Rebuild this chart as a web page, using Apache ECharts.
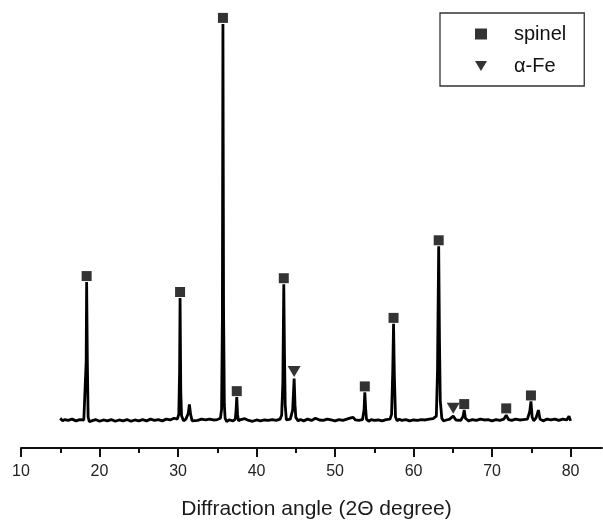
<!DOCTYPE html>
<html>
<head>
<meta charset="utf-8">
<script src="https://cdn.jsdelivr.net/npm/echarts@6/dist/echarts.min.js"></script>
<style>
html,body{margin:0;padding:0;background:#fff;}
#c{width:603px;height:525px;}
</style>
</head>
<body>
<div id="c"></div>
<script>
// Diffraction pattern (2-theta in degrees, intensity in arbitrary units)
const angles = [
15.0,15.3,15.6,16.0,16.5,17.0,17.5,18.0,18.2,18.3,18.36,18.45,18.55,18.7,19.0,19.5,
20.0,20.5,21.0,21.5,22.0,22.5,23.0,23.5,24.0,24.5,25.0,25.5,26.0,26.5,27.0,27.5,28.0,28.5,29.0,29.5,29.9,
30.1,30.2,30.26,30.35,30.45,30.7,31.0,31.3,31.45,31.6,31.8,32.0,32.5,33.0,33.5,34.0,34.5,35.0,35.4,
35.55,35.65,35.72,35.8,35.9,36.0,36.2,36.5,37.0,37.3,37.4,37.48,37.58,37.7,38.0,38.5,39.0,39.5,
40.0,40.5,41.0,41.5,42.0,42.5,43.0,43.2,43.35,43.47,43.55,43.65,43.8,44.0,44.3,44.6,44.79,44.9,
45.0,45.3,45.6,46.0,46.5,47.0,47.5,48.0,48.5,49.0,49.5,50.0,50.5,51.0,51.5,52.0,52.3,52.6,53.0,
53.5,53.7,53.79,53.9,54.0,54.3,54.6,55.0,55.5,56.0,56.5,57.0,57.2,57.35,57.45,57.55,57.7,57.9,
58.2,58.5,59.0,59.5,60.0,60.5,61.0,61.5,62.0,62.5,62.9,63.05,63.2,63.3,63.4,63.6,63.8,64.2,64.6,
65.05,65.4,66.0,66.3,66.45,66.6,67.0,67.5,68.0,68.5,69.0,69.5,70.0,70.5,71.0,71.5,71.8,72.1,72.5,
73.0,73.5,74.0,74.5,74.8,74.95,75.1,75.3,75.6,75.9,76.1,76.5,77.0,77.5,78.0,78.5,79.0,79.5,79.8,80.0
];
const intensity = [
69,63,66,64,67,63,66,65,69,200,385,200,72,61,63,66,
62,65,63,66,62,65,63,66,62,65,63,66,63,67,64,66,63,67,65,69,67,
78,180,348,130,75,63,67,80,101,78,63,66,64,67,65,67,65,66,69,
90,300,984,320,100,69,61,65,63,67,90,118,78,63,66,68,64,62,
65,63,65,64,66,64,67,76,150,380,230,100,65,61,67,88,161,100,
71,63,66,63,67,64,69,65,64,67,65,63,66,64,67,70,71,65,64,
66,90,129,90,67,62,66,64,65,63,66,67,78,180,288,170,72,63,
67,64,66,63,65,64,66,65,67,68,74,180,468,250,110,69,63,65,67,
74,65,64,73,88,69,63,66,64,67,65,66,63,66,64,67,76,66,64,
67,65,66,67,85,108,72,63,70,88,67,63,67,65,67,64,67,65,74,63
];
// Peak markers [angle, intensity]
const spinelPeaks = [[18.36,385],[30.26,348],[35.72,984],[37.48,118],[43.47,380],[53.79,129],[57.45,288],[63.2,468],[66.45,88],[71.8,78],[74.95,108]];
const fePeaks = [[44.79,161],[65.05,76]];
// Axis ticks
const majorTicks = [10,20,30,40,50,60,70,80];
const minorTicks = [15,25,35,45,55,65,75];
const seriesNames = ['spinel','\u03b1-Fe'];
const xTitle = 'Diffraction angle (2\u0398 degree)';

const FONT = '"Liberation Sans", Arial, Helvetica, sans-serif';
const chart = echarts.init(document.getElementById('c'), null, {renderer:'canvas'});
const lineData = angles.map((a,i)=>[a,intensity[i]]);
const triPath = 'path://M0,0L13,0L6.5,11Z';

chart.setOption({
  animation:false,
  backgroundColor:'#ffffff',
  grid:{left:21,right:1,top:17,bottom:74,containLabel:false},
  legend:{
    data:[{name:seriesNames[0],icon:'rect'},{name:seriesNames[1],icon:triPath}],
    orient:'vertical',
    left:440, top:13,
    itemWidth:12, itemHeight:11,
    itemGap:12,
    padding:[11,18,10,35],
    borderColor:'#333',
    borderWidth:1.3,
    textStyle:{fontFamily:FONT,fontSize:20,color:'#111',padding:[0,0,0,22]}
  },
  xAxis:[{
    type:'value', min:10, max:84,
    axisLine:{show:true,onZero:false,lineStyle:{color:'#111',width:2}},
    axisTick:{show:true,customValues:majorTicks,length:9,inside:false,lineStyle:{color:'#111',width:2}},
    axisLabel:{customValues:majorTicks,margin:16,fontFamily:FONT,fontSize:16,color:'#222'},
    splitLine:{show:false},
    name:xTitle, nameLocation:'middle', nameGap:51,
    nameTextStyle:{fontFamily:FONT,fontSize:21,color:'#1a1a1a',padding:[0,0,0,10]}
  },{
    type:'value', min:10, max:84, position:'bottom',
    axisLine:{show:false},
    axisTick:{show:true,customValues:minorTicks,length:5,lineStyle:{color:'#111',width:2}},
    axisLabel:{show:false},
    splitLine:{show:false}
  }],
  yAxis:{type:'value',min:0,max:1000,show:false,splitLine:{show:false}},
  series:[
    {type:'line',data:lineData,showSymbol:false,symbol:'none',lineStyle:{color:'#000',width:2.8},silent:true,z:2},
    {name:seriesNames[0],type:'scatter',data:spinelPeaks,symbol:'rect',symbolSize:10,symbolOffset:[0,-6],itemStyle:{color:'#000'},z:3},
    {name:seriesNames[1],type:'scatter',data:fePeaks,symbol:triPath,symbolSize:[13,11],symbolOffset:[0,-7],itemStyle:{color:'#000'},z:3}
  ]
});
</script>
</body>
</html>
